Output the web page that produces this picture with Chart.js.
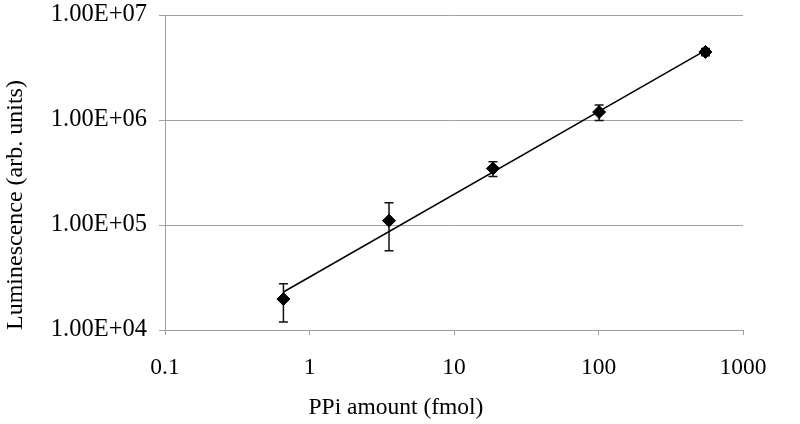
<!DOCTYPE html>
<html>
<head>
<meta charset="utf-8">
<script src="https://cdn.jsdelivr.net/npm/chart.js@4"></script>
<style>
  body { margin: 0; background: #fff; }
</style>
</head>
<body>
<canvas id="ppiChart" width="800" height="424"></canvas>
<script>
// PPi amount vs luminescence, log-log with error bars and power trendline
const ppiAmount = [0.66, 3.55, 18.6, 101, 550];
const luminescence = [19700, 110000, 345000, 1190000, 4450000];
const lumError = [7800, 53000, 55000, 200000, 350000];

const trendX = [0.66, 550];
const trendY = [23000, 4600000];

const xTicks = [0.1, 1, 10, 100, 1000];
const xTickLabels = ["0.1", "1", "10", "100", "1000"];
const yTicks = [1e4, 1e5, 1e6, 1e7];
const yTickLabels = ["1.00E+04", "1.00E+05", "1.00E+06", "1.00E+07"];

const serif = "'Liberation Serif', 'Times New Roman', serif";
const gridGray = "#a0a0a0";

const errorBars = {
  id: "errorBars",
  beforeDatasetsDraw(chart) {
    const { ctx, scales: { x, y } } = chart;
    ctx.save();
    ctx.strokeStyle = "#111";
    ctx.lineWidth = 1.5;
    ppiAmount.forEach((v, i) => {
      const px = x.getPixelForValue(v);
      const top = y.getPixelForValue(luminescence[i] + lumError[i]);
      const bot = y.getPixelForValue(luminescence[i] - lumError[i]);
      ctx.beginPath();
      ctx.moveTo(px, top); ctx.lineTo(px, bot);
      ctx.moveTo(px - 4.5, top); ctx.lineTo(px + 4.5, top);
      ctx.moveTo(px - 4.5, bot); ctx.lineTo(px + 4.5, bot);
      ctx.stroke();
    });
    ctx.restore();
  }
};

const xTitle = {
  id: "xTitle",
  afterDraw(chart) {
    const { ctx, scales: { x } } = chart;
    ctx.save();
    ctx.font = "23.5px " + serif;
    ctx.fillStyle = "#000";
    ctx.textAlign = "left";
    ctx.textBaseline = "middle";
    ctx.fillText("PPi amount (fmol)", x.getPixelForValue(1) - 1, 408);
    ctx.restore();
  }
};

const ctx = document.getElementById("ppiChart").getContext("2d");
new Chart(ctx, {
  type: "scatter",
  data: {
    datasets: [
      {
        label: "Luminescence",
        data: ppiAmount.map((v, i) => ({ x: v, y: luminescence[i] })),
        pointStyle: "rectRot",
        pointRadius: 6.5,
        backgroundColor: "#000",
        borderColor: "#000",
        borderWidth: 1,
        order: 0
      },
      {
        label: "Power fit",
        data: trendX.map((v, i) => ({ x: v, y: trendY[i] })),
        showLine: true,
        borderColor: "#000",
        borderWidth: 1.5,
        pointRadius: 0,
        order: 1
      }
    ]
  },
  options: {
    responsive: false,
    animation: false,
    layout: { padding: { left: 0, right: 57, top: 15, bottom: 0 } },
    plugins: {
      legend: { display: false },
      tooltip: { enabled: false }
    },
    scales: {
      x: {
        type: "logarithmic",
        min: 0.1,
        max: 1000,
        afterBuildTicks: (scale) => { scale.ticks = xTicks.map(v => ({ value: v })); },
        afterFit: (scale) => { scale.height = 94; },
        ticks: {
          callback: (v) => xTickLabels[xTicks.indexOf(v)],
          font: { family: serif, size: 23.5 },
          color: "#000",
          padding: 19,
          maxRotation: 0
        },
        grid: { drawOnChartArea: false, drawTicks: true, tickLength: 5, color: gridGray },
        border: { display: true, color: gridGray, width: 1 }
      },
      y: {
        type: "logarithmic",
        min: 1e4,
        max: 1e7,
        afterBuildTicks: (scale) => { scale.ticks = yTicks.map(v => ({ value: v })); },
        afterFit: (scale) => {
          scale.width = 165;
          scale.paddingTop = 0;
          scale.paddingBottom = 0;
        },
        ticks: {
          callback: (v) => yTickLabels[yTicks.indexOf(v)],
          font: { family: serif, size: 24.5 },
          color: "#000",
          padding: 12
        },
        grid: { color: gridGray, lineWidth: 1, tickLength: 6 },
        border: { display: true, color: gridGray, width: 1 },
        title: {
          display: true,
          text: "Luminescence (arb. units)",
          align: "start",
          font: { family: serif, size: 24 },
          color: "#000",
          padding: { top: 1, bottom: 0 }
        }
      }
    }
  },
  plugins: [errorBars, xTitle]
});
</script>
</body>
</html>
